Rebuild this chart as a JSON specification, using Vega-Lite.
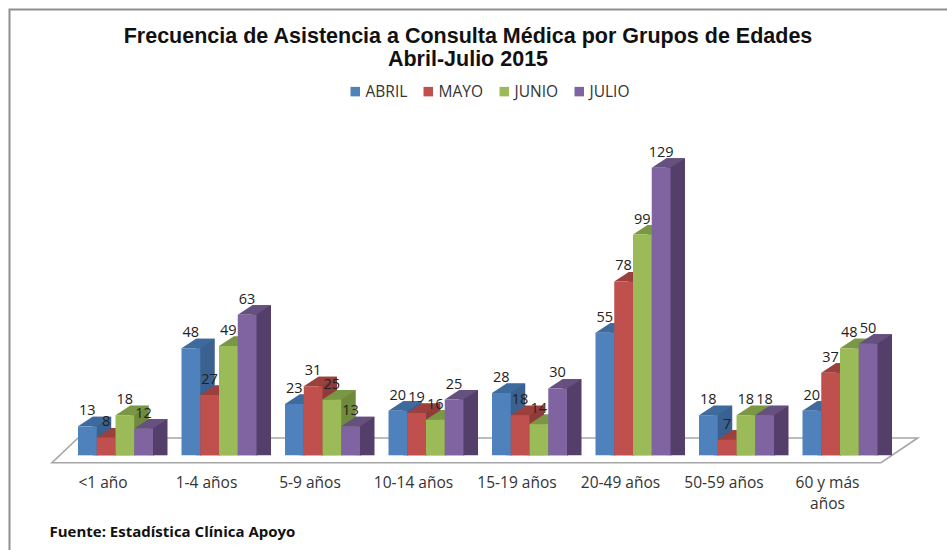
{
"$schema":"https://vega.github.io/schema/vega-lite/v6.json",
"autosize":"none",
"width":940,"height":545,
"padding":{"left":9.5,"top":9.5,"right":0,"bottom":0},
"background":"white",
"view":{"stroke":"#8f8f8f","strokeWidth":2,"fill":"white"},
"title":{"text":["Frecuencia de Asistencia a Consulta Médica por Grupos de Edades","Abril-Julio 2015"],"font":"Liberation Sans","fontSize":21.5,"fontWeight":"bold","color":"#111111","anchor":"middle","frame":"group","dx":-11.5,"baseline":"top","lineHeight":23,"offset":-61},
"datasets":{"barras":[
{"grupo":"<1 año","mes":"ABRIL","valor":13},{"grupo":"<1 año","mes":"MAYO","valor":8},{"grupo":"<1 año","mes":"JUNIO","valor":18},{"grupo":"<1 año","mes":"JULIO","valor":12},
{"grupo":"1-4 años","mes":"ABRIL","valor":48},{"grupo":"1-4 años","mes":"MAYO","valor":27},{"grupo":"1-4 años","mes":"JUNIO","valor":49},{"grupo":"1-4 años","mes":"JULIO","valor":63},
{"grupo":"5-9 años","mes":"ABRIL","valor":23},{"grupo":"5-9 años","mes":"MAYO","valor":31},{"grupo":"5-9 años","mes":"JUNIO","valor":25},{"grupo":"5-9 años","mes":"JULIO","valor":13},
{"grupo":"10-14 años","mes":"ABRIL","valor":20},{"grupo":"10-14 años","mes":"MAYO","valor":19},{"grupo":"10-14 años","mes":"JUNIO","valor":16},{"grupo":"10-14 años","mes":"JULIO","valor":25},
{"grupo":"15-19 años","mes":"ABRIL","valor":28},{"grupo":"15-19 años","mes":"MAYO","valor":18},{"grupo":"15-19 años","mes":"JUNIO","valor":14},{"grupo":"15-19 años","mes":"JULIO","valor":30},
{"grupo":"20-49 años","mes":"ABRIL","valor":55},{"grupo":"20-49 años","mes":"MAYO","valor":78},{"grupo":"20-49 años","mes":"JUNIO","valor":99},{"grupo":"20-49 años","mes":"JULIO","valor":129},
{"grupo":"50-59 años","mes":"ABRIL","valor":18},{"grupo":"50-59 años","mes":"MAYO","valor":7},{"grupo":"50-59 años","mes":"JUNIO","valor":18},{"grupo":"50-59 años","mes":"JULIO","valor":18},
{"grupo":"60 y más años","mes":"ABRIL","valor":20},{"grupo":"60 y más años","mes":"MAYO","valor":37},{"grupo":"60 y más años","mes":"JUNIO","valor":48},{"grupo":"60 y más años","mes":"JULIO","valor":50}
]},
"data":{"name":"barras"},
"layer":[
{"data":{"values":[{"grupo":"<1 año"}]},
 "mark":{"type":"point","filled":true,"opacity":1,"fill":"white","stroke":"#a6a6a6","strokeWidth":1.6,"size":4,"shape":"M-63.5,7.4L765.5,7.4L802.2,-17.3L-37.5,-17.3Z"},
 "encoding":{
  "x":{"field":"grupo","type":"nominal","sort":null,"title":"Fuente: Estadística Clínica Apoyo",
   "scale":{"type":"band","domain":["<1 año","1-4 años","5-9 años","10-14 años","15-19 años","20-49 años","50-59 años","60 y más años"],"range":[54.25,882.25],"paddingInner":0,"paddingOuter":0},
   "axis":{"orient":"bottom","offset":-79,"domain":false,"ticks":false,"grid":false,"labelAngle":0,"labelPadding":0,"labelOffset":-12.5,"labelFont":"Open Sans","labelFontSize":15.5,"labelColor":"#333333","labelBaseline":"top","labelLineHeight":21,"labelLimit":200,
    "labelExpr":"datum.label == '60 y más años' ? ['60 y más','años'] : datum.label",
    "titleFont":"Open Sans","titleFontSize":15,"titleFontWeight":"bold","titleColor":"#111111","titleAnchor":"start","titleAlign":"left","titleBaseline":"middle","titleX":39.5,"titleY":56}},
  "y":{"datum":0,"type":"quantitative","axis":null,"scale":{"domain":[0,129],"range":[445.8,158.2],"nice":false}}
 }},
{"mark":{"type":"bar","yOffset":-9.5,"y2Offset":-9.5},
 "encoding":{
  "x":{"field":"grupo","type":"nominal","sort":null,"scale":{"type":"band"}},
  "xOffset":{"field":"mes","type":"nominal","sort":null,"scale":{"type":"band","domain":["ABRIL","MAYO","JUNIO","JULIO"],"range":[14.5,118],"paddingOuter":0.76,"paddingInner":0}},
  "y":{"field":"valor","type":"quantitative","stack":null},
  "color":{"field":"mes","type":"nominal","legend":null,"scale":{"domain":["ABRIL","MAYO","JUNIO","JULIO"],"range":["#3a6190","#8f3b39","#6f8a3d","#533f69"]}}
 }},
{"mark":{"type":"point","filled":true,"opacity":1,"size":4,"strokeWidth":0,"shape":"M9.375,0.5L9.375,-9.5L23.9,-9.5Z"},
 "encoding":{
  "x":{"field":"grupo","type":"nominal","sort":null,"scale":{"type":"band"}},
  "xOffset":{"field":"mes","type":"nominal","sort":null,"scale":{"type":"band","domain":["ABRIL","MAYO","JUNIO","JULIO"],"paddingOuter":0.76,"paddingInner":0}},
  "y":{"datum":0,"type":"quantitative"},
  "color":{"field":"mes","type":"nominal","legend":null,"scale":{"domain":["ABRIL","MAYO","JUNIO","JULIO"],"range":["#3a6190","#8f3b39","#6f8a3d","#533f69"]}}
 }},
{"mark":{"type":"point","filled":true,"opacity":1,"size":4,"strokeWidth":0,"shape":"M-9.375,0L5.125,-9.5L23.9,-9.5L9.375,0Z"},
 "encoding":{
  "x":{"field":"grupo","type":"nominal","sort":null,"scale":{"type":"band"}},
  "xOffset":{"field":"mes","type":"nominal","sort":null,"scale":{"type":"band","domain":["ABRIL","MAYO","JUNIO","JULIO"],"paddingOuter":0.76,"paddingInner":0}},
  "y":{"field":"valor","type":"quantitative"},
  "color":{"field":"mes","type":"nominal","legend":null,"scale":{"domain":["ABRIL","MAYO","JUNIO","JULIO"],"range":["#3f6a9d","#9c403e","#7a9744","#65507f"]}}
 }},
{"mark":{"type":"bar"},
 "encoding":{
  "x":{"field":"grupo","type":"nominal","sort":null,"scale":{"type":"band"}},
  "xOffset":{"field":"mes","type":"nominal","sort":null,"scale":{"type":"band","domain":["ABRIL","MAYO","JUNIO","JULIO"],"paddingOuter":0.76,"paddingInner":0}},
  "y":{"field":"valor","type":"quantitative","stack":null},
  "color":{"field":"mes","type":"nominal","title":null,
   "scale":{"domain":["ABRIL","MAYO","JUNIO","JULIO"],"range":["#4f81bd","#c0504d","#9bbb59","#8064a2"]},
   "legend":{"orient":"none","direction":"horizontal","legendX":338,"legendY":74,"symbolType":"square","symbolSize":90,"symbolStrokeWidth":0,"labelFont":"Open Sans","labelFontSize":15.5,"labelColor":"#333333","columnPadding":13,"labelOffset":2.5,"padding":0}}
 }},
{"mark":{"type":"text","yOffset":-15,"font":"Open Sans","fontSize":14.5,"color":"#222222","baseline":"middle"},
 "encoding":{
  "x":{"field":"grupo","type":"nominal","sort":null,"scale":{"type":"band"}},
  "xOffset":{"field":"mes","type":"nominal","sort":null,"scale":{"type":"band","domain":["ABRIL","MAYO","JUNIO","JULIO"],"paddingOuter":0.76,"paddingInner":0}},
  "y":{"field":"valor","type":"quantitative","stack":null},
  "text":{"field":"valor","type":"quantitative"}
 }}
],
"resolve":{"scale":{"color":"independent","xOffset":"independent"},"legend":{"color":"independent"}}
}
